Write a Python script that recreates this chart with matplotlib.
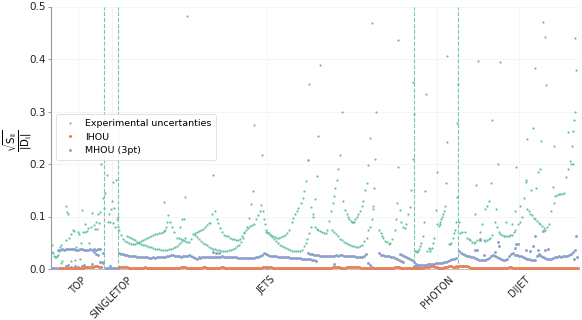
import numpy as np
import matplotlib
matplotlib.use("Agg")
import matplotlib.pyplot as plt

# ---- data (x = datapoint index) ----
group_labels = ["TOP", "SINGLETOP", "JETS", "PHOTON", "DIJET"]
group_centres = [82, 182, 647, 1158, 1405]
group_edges = [160, 202, 1090, 1222, 1582]

exp_top = [(2,.045),(4,.033),(7,.03),(9,.024),(12,.023),(15,.023),(18,.024),(21,.027),(24,.035),(26,.042),(29,.046),(31,.012),(33,.015),(44,.055),(46,.12),(49,.108),(51,.104),(55,.06),(59,.066),(61,.015),(65,.074),(68,.072),(73,.017),(76,.042),(81,.07),(83,.066),(87,.019),(90,.05),(93,.113),(96,.07),(101,.085),(103,.07),(107,.072),(111,.078),(115,.05),(119,.08),(124,.107),(129,.084),(132,.076),(135,.09),(138,.077),(142,.105),(145,.088),(148,.108),(151,.2)]
exp_single = [(157,.135),(159,.117),(163,.145),(168,.18),(170,.09),(173,.105),(176,.09),(179,.115),(182,.13),(185,.165),(187,.087),(190,.117),(193,.08),(195,.17),(198,.095),(200,.1),(201,.08),(203,.075)]
exp_jets_a = [(209,.065),(215,.058),(221,.054),(227,.051),(233,.049),(239,.048),(245,.047),(251,.048),(257,.049),(263,.051),(269,.053),(275,.055),(281,.057),(287,.059),(293,.061),(299,.063),(305,.065),(311,.066),(317,.067),(323,.068),(329,.069),(335,.070),(339,.072),(342,.075),(346,.08),(349,.09),(340,.128)]
exp_jets_b = [(227,.063),(233,.061),(239,.059),(245,.057),(251,.055),(257,.052),(263,.050),(269,.048),(275,.046),(281,.045),(287,.043),(293,.042),(299,.041),(305,.040),(311,.039),(317,.038),(323,.038),(329,.037),(335,.037),(341,.037),(347,.037),(353,.038),(359,.039),(365,.040),(371,.042),(377,.044),(383,.047),(389,.051),(395,.055),(401,.06),(351,.102),(356,.09),(362,.08),(369,.07),(377,.06),(387,.08),(394,.095),(398,.095),(403,.137)]
exp_jets_c = [(384,.060),(390,.058),(396,.056),(402,.054),(408,.052),(414,.051),(420,.058),(426,.066),(432,.068),(438,.070),(444,.072),(450,.074),(456,.077),(462,.080),(468,.083),(474,.087),(477,.088),(483,.105),(487,.18),(492,.11),(497,.095)]
exp_jets_d = [(500,.087),(506,.078),(512,.070),(518,.065),(524,.063),(530,.062),(536,.060),(542,.058),(548,.057),(554,.056),(560,.056),(566,.058),(572,.062),(578,.068),(584,.074),(590,.079),(596,.082),(602,.084),(608,.086),(614,.095),(620,.103),(626,.110),(629,.122),(635,.11)]
exp_jets_e = [(432,.065),(438,.061),(444,.057),(450,.053),(456,.050),(462,.047),(468,.045),(474,.042),(480,.040),(486,.039),(492,.038),(498,.037),(504,.036),(510,.035),(516,.035),(522,.035),(528,.035),(534,.036),(540,.037),(546,.038),(552,.040),(558,.043),(564,.046),(570,.052),(577,.06),(580,.07),(587,.08),(595,.097),(600,.123),(605,.149)]
exp_jets_f = [(639,.095),(642,.085),(645,.075),(648,.071),(654,.068),(660,.065),(666,.063),(672,.061),(678,.060),(684,.060),(690,.061),(696,.063),(702,.065),(708,.068),(714,.074),(722,.09),(727,.097),(732,.105),(737,.111),(742,.117),(750,.125),(755,.135),(759,.148),(765,.168),(770,.208)]
exp_jets_g = [(645,.070),(651,.068),(657,.065),(663,.061),(669,.057),(675,.053),(681,.049),(687,.046),(693,.044),(699,.042),(705,.040),(711,.038),(717,.036),(723,.035),(729,.034),(735,.034),(741,.034),(747,.035),(753,.037),(759,.043),(764,.05),(769,.058),(775,.068),(781,.08),(785,.1),(787,.105),(780,.118),(792,.133),(797,.178)]
exp_jets_h = [(792,.08),(797,.077),(802,.075),(807,.072),(812,.07),(818,.069),(825,.068),(829,.075),(835,.092),(840,.11),(845,.125),(849,.14),(853,.155),(857,.17),(862,.19)]
exp_jets_i = [(844,.075),(850,.071),(856,.066),(862,.062),(868,.058),(874,.055),(880,.052),(886,.049),(892,.047),(898,.045),(904,.044),(910,.043),(916,.042),(922,.042),(928,.043),(934,.046),(940,.053),(947,.06),(952,.075),(957,.08),(962,.095),(965,.115),(967,.12),(877,.13),(882,.112),(887,.104),(891,.1),(895,.096),(899,.092),(902,.09),(906,.089),(909,.09),(913,.095),(917,.1),(922,.105),(927,.11),(932,.12),(937,.13),(942,.15),(947,.163),(952,.198),(969,.155)]
exp_jets_j = [(984,.075),(989,.068),(993,.062),(997,.06),(1003,.053),(1007,.052),(1013,.047),(1017,.049),(1023,.058),(1031,.075),(1035,.095),(1038,.125),(1040,.195),(1046,.113),(1051,.09),(1055,.08),(1061,.078),(1065,.085),(1071,.105),(1077,.118),(1081,.15),(1085,.21)]
exp_photon = [(1092,.035),(1095,.034),(1098,.033),(1102,.035),(1105,.038),(1108,.044),(1111,.05),(1115,.063),(1118,.09),(1122,.148),(1128,.035),(1133,.04),(1136,.034),(1138,.038),(1143,.04),(1146,.05),(1148,.06),(1154,.113),(1158,.085),(1163,.082),(1166,.086),(1168,.09),(1171,.095),(1173,.1),(1176,.105),(1178,.11),(1181,.12),(1184,.163),(1157,.185),(1193,.047),(1197,.048),(1200,.05),(1205,.06),(1208,.068),(1211,.075),(1215,.09),(1218,.137)]
exp_dijet = [(1224,.09),(1228,.068),(1233,.07),(1241,.07),(1248,.06),(1253,.057),(1258,.055),(1263,.052),(1268,.05),(1273,.052),(1278,.055),(1271,.105),(1276,.16),(1286,.07),(1293,.085),(1303,.115),(1308,.12),(1314,.13),(1319,.163),(1298,.055),(1303,.054),(1308,.055),(1313,.057),(1318,.06),(1323,.065),(1331,.09),(1338,.08),(1335,.115),(1343,.07),(1348,.067),(1353,.065),(1358,.063),(1363,.062),(1368,.062),(1373,.063),(1378,.064),(1383,.065),(1388,.07),(1393,.075),(1401,.085),(1408,.09),(1413,.1),(1366,.09),(1383,.085),(1391,.11),(1418,.135),(1425,.165),(1426,.17),(1441,.15),(1456,.155),(1408,.12),(1428,.115),(1433,.11),(1438,.105),(1443,.102),(1448,.098),(1453,.095),(1458,.092),(1463,.088),(1468,.085),(1473,.081),(1478,.078),(1483,.075),(1488,.08),(1493,.085),(1500,.11),(1508,.125),(1513,.14),(1518,.141),(1523,.142),(1528,.142),(1533,.143),(1538,.145),(1545,.175),(1551,.19),(1558,.205),(1561,.2),(1565,.2),(1506,.157),(1461,.185),(1466,.19),(1396,.195),(1341,.2)]
exp_high = [(962,.468),(807,.389),(775,.352),(872,.299),(975,.299),(610,.275),(802,.253),(957,.25),(632,.217),(867,.217),(770,.208),(972,.21),(408,.482),(1041,.436),(1087,.357),(1124,.334),(1090,.296),(1189,.406),(1221,.353),(1219,.278),(1187,.241),(1281,.397),(1346,.394),(1323,.283),(1476,.471),(1481,.442),(1571,.44),(1451,.382),(1576,.38),(1486,.35),(1573,.30),(1569,.284),(1446,.268),(1566,.263),(1551,.261),(1429,.248),(1471,.243),(1509,.234),(1563,.234)]

mhou_top = [.036,.037,.038,.037,.039,.039,.038,.039,.038,.037,.037,.038,.038,.037,.037,.037,.038,.037,.038,.037,.038,.039]
mhou_low = [(3,.001),(9,.001),(15,.001),(24,.002),(45,.005),(52,.007),(60,.003),(72,.005),(82,.003),(92,.006),(100,.007),(122,.009),(130,.032),(135,.029),(140,.027),(148,.014),(152,.013),(157,.03),(156,.011),(164,.001),(170,.002),(176,.005),(180,.001),(185,.002),(190,.001),(195,.002),(200,.001)]
mhou_jets1 = [.030,.029,.028,.027,.026,.025,.025,.024,.024,.023,.023,.022,.023,.022,.022,.021,.021,.022,.021,.022,.022,.022,.023,.023,.024,.025,.026,.027,.025,.025,.024,.023,.024,.025,.025,.026,.024,.022,.021,.020,.022]
mhou_jets2 = [.021,.022,.022,.022,.023,.023,.023,.023,.022,.022,.023,.024,.023,.023,.022,.022,.022,.022,.022,.021,.021,.021,.021,.021,.021,.021,.021,.021,.022,.023,.025,.027,.030,.028,.026,.025,.025,.024,.024,.023,.023,.023,.022,.022,.022,.021,.021,.021,.021,.021,.021,.020,.020,.020,.020,.019,.018,.017,.015]
mhou_jets3 = [.030,.029,.028,.027,.027,.026,.025,.025,.024,.024,.024,.025,.024,.025,.026,.025,.026,.026,.025,.025,.025,.024,.025,.024,.023,.023,.022,.022,.025,.029,.012,.008,.004]
mhou_jets4 = [.030,.027,.026,.025,.024,.024,.023,.022,.021,.020,.018,.016,.013]
mhou_jets5 = [.028,.026,.025,.023,.021,.019,.017,.013,.009,.006]
mhou_photon = [.006,.006,.007,.007,.007,.008,.008,.009,.009,.010,.010,.011,.011,.012,.012,.013,.014,.015,.018,.020,.020,.021]
mhou_dijet = [.035,.031,.029,.027,.025,.024,.023,.022,.021,.020,.018,.017,.017,.018,.019,.021,.024,.026,.025,.023,.021,.019,.017,.018,.020,.024,.028,.030,.027,.026,.025,.024,.023,.021,.020,.019,.018,.017,.017,.025,.026,.024,.023,.021,.020,.019,.020,.021,.022,.022,.024,.023,.025,.025,.024,.026,.028,.033,.037,.022]
mhou_scatter = [(1273,.036),(1278,.036),(1287,.056),(1333,.032),(1341,.052),(1345,.043),(1391,.04),(1396,.047),(1401,.047),(1426,.036),(1438,.034),(1445,.043),(1451,.062),(1460,.036),(1465,.028),(1475,.072),(1483,.036),(1491,.039),(1576,.063),(1568,.02),(487,.032),(495,.03),(503,.03),(647,.0),(850,.009),(1300,.027),(1286,.057),(1216,.005)]

ihou_top = [.001,.001,.001,.002,.001,.002,.002,.002,.001,.002,.002,.002,.002,.003,.003,.004,.004,.004,.005,.005,.004,.004]
ihou_rest = [.003,.004,.004,.003,.003,.002,.002,.002,.001,.001,.001,.001,.002,.003,.002,.001,.001,.001,.001,.001,.001,.001,.001,.001,.001,.001,.001,.001,.001,.002,.002,.003,.003,.003,.002,.002,.001,.001,.001,.001,.001,
             .002,.003,.003,.002,.001,.001,.001,.001,.001,.002,.003,.003,.002,.001,.001,.001,.001,.001,.001,.001,.001,.001,.001,.001,.001,.001,.001,.001,.001,.001,.001,.003,.004,.004,.004,.003,.002,.001,.001,.001,.001,.001,.001,.001,.001,.001,.001,.001,.001,.001,.001,.001,.001,.001,.001,.001,.001,.001,.001,
             .001,.001,.001,.001,.001,.001,.001,.003,.003,.003,.003,.002,.001,.001,.003,.003,.003,.003,.004,.003,.003,.002,.002,.002,.002,.001,.002,.001,.001,.001,.001,.002,.002,.002,.001,.001,.001,.001,.004,.004,.003,.002,.001,.001,.001,.001,.002,.002,.001,.001,.001,
             .002,.002,.003,.003,.004,.005,.005,.004,.003,.002,.002,.002,.003,.004,.005,.005,.004,.003,.003,.005,.006,.006,.005,.005,.004,.002,.002,.001,.001,.001,.001,.002,.002,.002,.001,.001,.001,.002,.002,.001,.001,.001,.001,.002,.003,.003,.002,.002,.001,.001,.001,.001,.002,.002,.002,.001,.001,.001,.001,.001,.002,.002,.001,.001,.001,.001,.001,.001,.001,.001,.001,.001,.002,.001,.001,.001,.001,.001,.001,.001]


def seq(start, vals, step=6):
    return np.arange(start, start + step * len(vals), step)


exp_all = (exp_top + exp_single + exp_jets_a + exp_jets_b + exp_jets_c + exp_jets_d + exp_jets_e
           + exp_jets_f + exp_jets_g + exp_jets_h + exp_jets_i + exp_jets_j + exp_photon + exp_dijet + exp_high)
exp_x = [p[0] for p in exp_all]
exp_y = [p[1] for p in exp_all]

mhou_x = np.concatenate([seq(21, mhou_top), seq(205, mhou_jets1), seq(447, mhou_jets2), seq(772, mhou_jets3),
                         seq(985, mhou_jets4), seq(1048, mhou_jets5), seq(1090, mhou_photon), seq(1223, mhou_dijet),
                         [p[0] for p in mhou_low], [p[0] for p in mhou_scatter]])
mhou_y = np.concatenate([mhou_top, mhou_jets1, mhou_jets2, mhou_jets3, mhou_jets4, mhou_jets5, mhou_photon, mhou_dijet,
                         [p[1] for p in mhou_low], [p[1] for p in mhou_scatter]])
ihou_x = np.concatenate([seq(24, ihou_top), seq(205, ihou_rest)])
ihou_y = np.concatenate([ihou_top, ihou_rest])

GREEN, ORANGE, BLUE = "#66c2a5", "#fc8d62", "#8da0cb"

fig = plt.figure(figsize=(5.82, 3.2), dpi=100)
ax = fig.add_axes([51 / 582, 1 - 269 / 320, 527.5 / 582, 262.5 / 320])

ax.plot(exp_x, exp_y, ls="", marker="o", ms=1.6, mew=0, color=GREEN, label="Experimental uncertanties", zorder=3)
ax.plot(ihou_x, ihou_y, ls="", marker="o", ms=2.2, mew=0, color="#e9805a", label="IHOU", zorder=5)
ax.plot(mhou_x, mhou_y, ls="", marker="o", ms=2.1, mew=0, color=BLUE, label="MHOU (3pt)", zorder=4)

for e in group_edges:
    ax.axvline(e, color=GREEN, ls="--", lw=0.8, alpha=0.9, zorder=2)

ax.set_xlim(0, 1582)
ax.set_ylim(0, 0.5)
ax.set_xticks(group_centres)
ax.set_xticklabels(group_labels, rotation=45, ha="center", fontsize=6.9, color="#222222")
ax.set_yticks([0, .1, .2, .3, .4, .5])
ax.set_yticklabels(["0.0", "0.1", "0.2", "0.3", "0.4", "0.5"], fontsize=7.5, color="#222222")
ax.tick_params(axis="x", length=0, pad=4)
ax.tick_params(axis="y", length=2, width=0.6, color="#888888", pad=1.5)
ax.grid(True, color="#f5f5f5", lw=0.7)
ax.set_axisbelow(True)
for s in ["top", "right"]:
    ax.spines[s].set_visible(False)
ax.spines["left"].set_color("#999999")
ax.spines["left"].set_linewidth(0.8)
ax.spines["bottom"].set_color("#bbbbbb")
ax.spines["bottom"].set_linewidth(0.6)

ax.set_ylabel(r"$\frac{\sqrt{\mathrm{S_{ii}}}}{|\mathrm{D_{i}}|}$", fontsize=10.5)
ax.yaxis.set_label_coords(-0.03, 0.49)

leg = ax.legend(loc="lower left", bbox_to_anchor=(0.009, 0.415), fontsize=6.8, frameon=True, framealpha=0.85,
                edgecolor="#dddddd", borderpad=0.5, labelspacing=0.5, handletextpad=0.6, borderaxespad=0, markerscale=1.0)
leg.get_frame().set_linewidth(0.7)

fig.savefig("out.png", dpi=100)
